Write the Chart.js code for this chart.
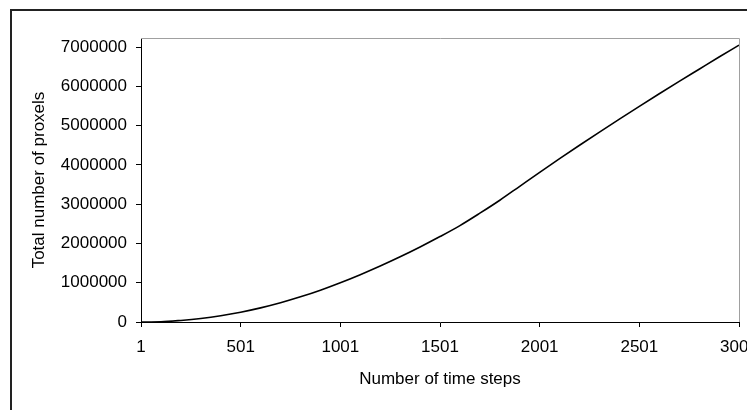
<!DOCTYPE html>
<html>
<head>
<meta charset="utf-8">
<script src="https://cdn.jsdelivr.net/npm/chart.js@4/dist/chart.umd.min.js"></script>
<style>
  html, body { margin: 0; padding: 0; background: #fff; overflow: hidden; width: 747px; height: 410px; }
  #wrap { position: absolute; left: 0; top: 0; width: 800px; height: 410px; }
  #frame { position: absolute; left: 10px; top: 9px; width: 900px; height: 600px; border: 2px solid #222; box-sizing: border-box; pointer-events: none; }
  canvas { position: absolute; left: 0; top: 0; }
</style>
</head>
<body>
<div id="wrap">
  <canvas id="c" width="800" height="410"></canvas>
  <div id="frame"></div>
</div>
<script>
// Time steps (x) and total number of proxels (y)
const timeSteps = [1, 101, 201, 301, 401, 501, 601, 701, 801, 901, 1001, 1101, 1201, 1301, 1401, 1501,
  1601, 1701, 1801, 1901, 2001, 2101, 2201, 2301, 2401, 2501, 2601, 2701, 2801, 2901, 3001];
const proxels = [0, 5000, 40000, 90000, 160000, 250000, 360000, 490000, 640000, 810000, 1000000,
  1205000, 1425000, 1660000, 1910000, 2175000, 2455000, 2770000, 3100000, 3455000, 3810000,
  4160000, 4500000, 4835000, 5165000, 5490000, 5810000, 6125000, 6435000, 6745000, 7050000];
const xTickValues = [1, 501, 1001, 1501, 2001, 2501, 3001];
const yTickValues = [0, 1000000, 2000000, 3000000, 4000000, 5000000, 6000000, 7000000];
const xTitle = 'Number of time steps';
const yTitle = 'Total number of proxels';

const FONT = { family: '"Liberation Sans", Arial, sans-serif', size: 17 };

const plotBorder = {
  id: 'plotBorder',
  afterDraw(chart) {
    const { ctx, chartArea: a } = chart;
    ctx.save();
    ctx.strokeStyle = '#a0a0a0';
    ctx.lineWidth = 1;
    ctx.beginPath();
    ctx.moveTo(a.left, a.top + 0.5);
    ctx.lineTo(a.right + 0.5, a.top + 0.5);
    ctx.lineTo(a.right + 0.5, a.bottom);
    ctx.stroke();
    ctx.restore();
  }
};

new Chart(document.getElementById('c'), {
  type: 'line',
  data: {
    datasets: [{
      data: timeSteps.map((t, i) => ({ x: t, y: proxels[i] })),
      borderColor: '#000',
      borderWidth: 1.6,
      pointRadius: 0,
      fill: false,
      cubicInterpolationMode: 'monotone'
    }]
  },
  plugins: [plotBorder],
  options: {
    responsive: false,
    animation: false,
    devicePixelRatio: 1,
    layout: { padding: { left: 0, top: 38, right: 61, bottom: 0 } },
    plugins: { legend: { display: false }, tooltip: { enabled: false } },
    scales: {
      x: {
        type: 'linear',
        min: 1,
        max: 3001,
        afterBuildTicks: (s) => { s.ticks = xTickValues.map(v => ({ value: v })); },
        afterFit: (s) => { s.height = 88; },
        grid: { display: true, drawOnChartArea: false, drawTicks: true, tickLength: 5, color: '#000' },
        border: { display: true, color: '#000', width: 1 },
        ticks: { color: '#000', font: FONT, padding: 10, maxRotation: 0, autoSkip: false, callback: (v) => String(v) },
        title: { display: true, text: xTitle, color: '#000', font: FONT, padding: { top: 0, bottom: 20 } }
      },
      y: {
        type: 'linear',
        min: 0,
        max: 7230000,
        afterBuildTicks: (s) => { s.ticks = yTickValues.map(v => ({ value: v })); },
        afterFit: (s) => { s.width = 141; },
        grid: { display: true, drawOnChartArea: false, drawTicks: true, tickLength: 5, color: '#000' },
        border: { display: true, color: '#000', width: 1 },
        ticks: { color: '#000', font: FONT, padding: 9, autoSkip: false, callback: (v) => String(v) },
        title: { display: true, text: yTitle, color: '#000', font: FONT, padding: { top: 29, bottom: 0 } }
      }
    }
  }
});
</script>
</body>
</html>
